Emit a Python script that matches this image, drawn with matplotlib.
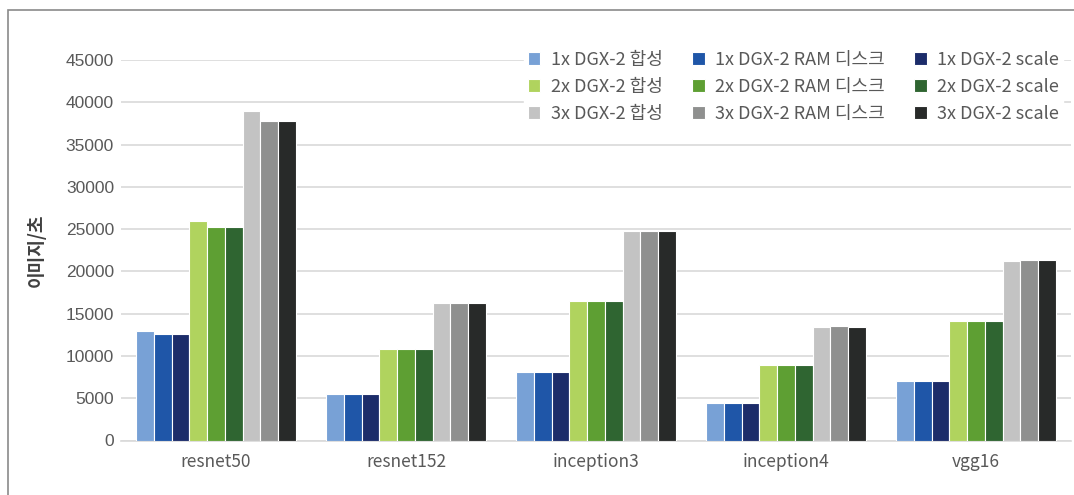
import numpy as np
import matplotlib.pyplot as plt
from matplotlib.patches import Rectangle

plt.rcParams['font.family'] = ['Noto Sans CJK KR', 'DejaVu Sans']

models = ['resnet50', 'resnet152', 'inception3', 'inception4', 'vgg16']

series_names = [
    '1x DGX-2 합성', '1x DGX-2 RAM 디스크', '1x DGX-2 scale',
    '2x DGX-2 합성', '2x DGX-2 RAM 디스크', '2x DGX-2 scale',
    '3x DGX-2 합성', '3x DGX-2 RAM 디스크', '3x DGX-2 scale',
]

one_syn = [12950, 5460, 8140, 4470, 7040]
one_ram = [12630, 5460, 8140, 4470, 7040]
one_scale = [12630, 5460, 8140, 4470, 7040]
two_syn = [25990, 10860, 16460, 8930, 14170]
two_ram = [25250, 10860, 16460, 8930, 14170]
two_scale = [25250, 10860, 16460, 8930, 14170]
three_syn = [38970, 16300, 24740, 13390, 21230]
three_ram = [37820, 16300, 24740, 13540, 21380]
three_scale = [37820, 16300, 24740, 13390, 21380]

values = [one_syn, one_ram, one_scale, two_syn, two_ram, two_scale,
          three_syn, three_ram, three_scale]

colors = ['#78A1D6', '#1F56A8', '#1C2C6A',
          '#B0D35E', '#5E9F33', '#2F6531',
          '#C3C3C3', '#8F908F', '#282A29']

fig = plt.figure(figsize=(10.74, 4.95), dpi=100)
ax = fig.add_axes([121 / 1074, 1 - 440.5 / 495, 950 / 1074, 380.5 / 495])

# outer frame, open at the right and bottom like a clipped screenshot
fig.patches.append(Rectangle((8 / 1074, -0.1), 1.2, 1.1 - 10 / 495 + 0.001,
                             transform=fig.transFigure, fill=False,
                             edgecolor='#8A8A8A', linewidth=1.2, zorder=0))

x = np.arange(len(models))
w = 0.0936
bars = []
for i, (vals, c) in enumerate(zip(values, colors)):
    b = ax.bar(x + (i - 4) * w, vals, width=w, color=c,
               edgecolor='white', linewidth=0.8, zorder=3, label=series_names[i])
    bars.append(b)

ax.set_xlim(-0.5, len(models) - 0.5)
ax.set_ylim(0, 45000)
ax.set_yticks(range(0, 45001, 5000))
ax.set_xticks(x)
ax.set_xticklabels(models)
ax.yaxis.grid(True, color='#D9D9D9', linewidth=1.2, zorder=0)
ax.set_axisbelow(True)
for s in ['top', 'right', 'left']:
    ax.spines[s].set_visible(False)
ax.spines['bottom'].set_color('#D9D9D9')
ax.spines['bottom'].set_linewidth(1.2)
ax.tick_params(axis='both', length=0, colors='#595959', labelsize=12.5)
ax.tick_params(axis='y', pad=5)
ax.tick_params(axis='x', pad=9)
for lbl in ax.get_yticklabels():
    lbl.set_family(['Liberation Sans', 'DejaVu Sans'])
ax.set_ylabel('이미지/초', fontsize=13, color='#404040', fontweight='bold', labelpad=14)

# legend filled column by column: 합성 / RAM 디스크 / scale
order = [0, 3, 6, 1, 4, 7, 2, 5, 8]
leg = fig.legend([bars[i] for i in order], [series_names[i] for i in order],
                 ncol=3, loc='upper right', bbox_to_anchor=(1072 / 1074, 1 - 38 / 495),
                 frameon=True, fancybox=False, edgecolor='white', framealpha=1,
                 fontsize=13, handlelength=0.7, handleheight=0.7,
                 columnspacing=1.6, labelspacing=0.5, handletextpad=0.6,
                 borderpad=0.2)
for t in leg.get_texts():
    t.set_color('#595959')

fig.savefig('out.png', dpi=100, facecolor='white')
